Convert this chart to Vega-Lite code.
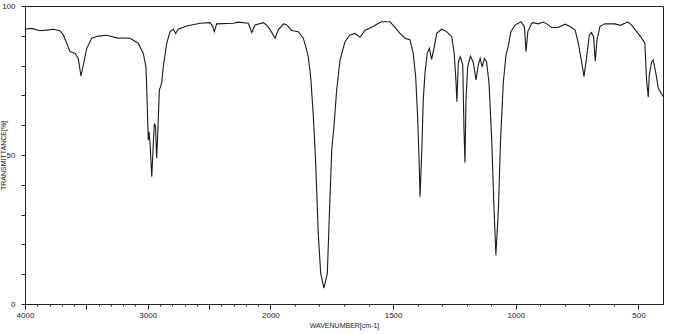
{
  "$schema": "https://vega.github.io/schema/vega-lite/v6.json",
  "autosize": {"type": "none"},
  "padding": {"left": 25, "top": 6, "right": 15, "bottom": 30},
  "width": 638,
  "height": 298,
  "background": "white",
  "config": {
    "view": {"stroke": "#222", "strokeWidth": 1},
    "axis": {"labelFont": "Liberation Sans", "titleFont": "Liberation Sans", "labelColor": "#222", "titleColor": "#222", "domainColor": "#222", "tickColor": "#222", "grid": false, "labelFontSize": 8, "titleFontSize": 7, "titleFontWeight": "normal", "labelFlush": false, "labelOverlap": false}
  },
  "data": {"values": [
    {"wavenumber": 4000, "transmittance": 92.2},
    {"wavenumber": 3945, "transmittance": 92.5},
    {"wavenumber": 3878, "transmittance": 91.7},
    {"wavenumber": 3823, "transmittance": 91.9},
    {"wavenumber": 3769, "transmittance": 92.2},
    {"wavenumber": 3715, "transmittance": 91.7},
    {"wavenumber": 3688, "transmittance": 90.3},
    {"wavenumber": 3660, "transmittance": 87.5},
    {"wavenumber": 3633, "transmittance": 84.7},
    {"wavenumber": 3592, "transmittance": 84.1},
    {"wavenumber": 3566, "transmittance": 82.4},
    {"wavenumber": 3544, "transmittance": 76.5},
    {"wavenumber": 3525, "transmittance": 80.2},
    {"wavenumber": 3497, "transmittance": 85.8},
    {"wavenumber": 3456, "transmittance": 89.2},
    {"wavenumber": 3403, "transmittance": 89.9},
    {"wavenumber": 3334, "transmittance": 90.2},
    {"wavenumber": 3253, "transmittance": 89.3},
    {"wavenumber": 3144, "transmittance": 89.2},
    {"wavenumber": 3077, "transmittance": 87.5},
    {"wavenumber": 3036, "transmittance": 84.1},
    {"wavenumber": 3014, "transmittance": 79.6},
    {"wavenumber": 3006, "transmittance": 70.0},
    {"wavenumber": 3000, "transmittance": 61.2},
    {"wavenumber": 2995, "transmittance": 55.0},
    {"wavenumber": 2989, "transmittance": 57.8},
    {"wavenumber": 2981, "transmittance": 54.0},
    {"wavenumber": 2967, "transmittance": 42.7},
    {"wavenumber": 2954, "transmittance": 53.9},
    {"wavenumber": 2946, "transmittance": 60.6},
    {"wavenumber": 2936, "transmittance": 59.5},
    {"wavenumber": 2927, "transmittance": 48.9},
    {"wavenumber": 2918, "transmittance": 57.3},
    {"wavenumber": 2905, "transmittance": 71.8},
    {"wavenumber": 2886, "transmittance": 74.1},
    {"wavenumber": 2873, "transmittance": 79.6},
    {"wavenumber": 2845, "transmittance": 87.5},
    {"wavenumber": 2818, "transmittance": 91.4},
    {"wavenumber": 2791, "transmittance": 92.2},
    {"wavenumber": 2772, "transmittance": 90.8},
    {"wavenumber": 2751, "transmittance": 92.2},
    {"wavenumber": 2682, "transmittance": 93.3},
    {"wavenumber": 2574, "transmittance": 94.2},
    {"wavenumber": 2492, "transmittance": 94.4},
    {"wavenumber": 2470, "transmittance": 93.1},
    {"wavenumber": 2457, "transmittance": 91.4},
    {"wavenumber": 2438, "transmittance": 94.0},
    {"wavenumber": 2302, "transmittance": 94.2},
    {"wavenumber": 2262, "transmittance": 94.6},
    {"wavenumber": 2180, "transmittance": 94.2},
    {"wavenumber": 2152, "transmittance": 91.1},
    {"wavenumber": 2125, "transmittance": 93.6},
    {"wavenumber": 2058, "transmittance": 94.4},
    {"wavenumber": 2030, "transmittance": 93.6},
    {"wavenumber": 2000, "transmittance": 91.9},
    {"wavenumber": 1981, "transmittance": 89.2},
    {"wavenumber": 1968, "transmittance": 92.0},
    {"wavenumber": 1947, "transmittance": 94.0},
    {"wavenumber": 1936, "transmittance": 93.8},
    {"wavenumber": 1913, "transmittance": 91.8},
    {"wavenumber": 1886, "transmittance": 91.4},
    {"wavenumber": 1866, "transmittance": 89.2},
    {"wavenumber": 1852, "transmittance": 85.2},
    {"wavenumber": 1846, "transmittance": 83.0},
    {"wavenumber": 1839, "transmittance": 78.5},
    {"wavenumber": 1835, "transmittance": 75.2},
    {"wavenumber": 1825, "transmittance": 63.0},
    {"wavenumber": 1818, "transmittance": 51.7},
    {"wavenumber": 1815, "transmittance": 46.1},
    {"wavenumber": 1805, "transmittance": 23.7},
    {"wavenumber": 1795, "transmittance": 10.3},
    {"wavenumber": 1782, "transmittance": 5.3},
    {"wavenumber": 1768, "transmittance": 10.3},
    {"wavenumber": 1760, "transmittance": 29.3},
    {"wavenumber": 1750, "transmittance": 51.7},
    {"wavenumber": 1741, "transmittance": 59.5},
    {"wavenumber": 1730, "transmittance": 71.8},
    {"wavenumber": 1716, "transmittance": 81.9},
    {"wavenumber": 1696, "transmittance": 88.0},
    {"wavenumber": 1676, "transmittance": 90.3},
    {"wavenumber": 1655, "transmittance": 90.8},
    {"wavenumber": 1635, "transmittance": 89.5},
    {"wavenumber": 1614, "transmittance": 91.9},
    {"wavenumber": 1581, "transmittance": 93.1},
    {"wavenumber": 1560, "transmittance": 94.2},
    {"wavenumber": 1546, "transmittance": 94.7},
    {"wavenumber": 1513, "transmittance": 94.7},
    {"wavenumber": 1492, "transmittance": 92.8},
    {"wavenumber": 1472, "transmittance": 90.8},
    {"wavenumber": 1451, "transmittance": 89.2},
    {"wavenumber": 1431, "transmittance": 88.6},
    {"wavenumber": 1418, "transmittance": 84.1},
    {"wavenumber": 1408, "transmittance": 76.3},
    {"wavenumber": 1400, "transmittance": 62.9},
    {"wavenumber": 1394, "transmittance": 48.3},
    {"wavenumber": 1390, "transmittance": 36.0},
    {"wavenumber": 1383, "transmittance": 51.7},
    {"wavenumber": 1377, "transmittance": 68.5},
    {"wavenumber": 1370, "transmittance": 77.4},
    {"wavenumber": 1361, "transmittance": 84.1},
    {"wavenumber": 1352, "transmittance": 85.8},
    {"wavenumber": 1343, "transmittance": 82.1},
    {"wavenumber": 1332, "transmittance": 86.4},
    {"wavenumber": 1322, "transmittance": 90.8},
    {"wavenumber": 1302, "transmittance": 92.2},
    {"wavenumber": 1282, "transmittance": 91.4},
    {"wavenumber": 1261, "transmittance": 89.7},
    {"wavenumber": 1251, "transmittance": 84.1},
    {"wavenumber": 1244, "transmittance": 75.2},
    {"wavenumber": 1240, "transmittance": 67.9},
    {"wavenumber": 1234, "transmittance": 81.3},
    {"wavenumber": 1226, "transmittance": 83.0},
    {"wavenumber": 1216, "transmittance": 80.2},
    {"wavenumber": 1211, "transmittance": 58.4},
    {"wavenumber": 1207, "transmittance": 47.4},
    {"wavenumber": 1203, "transmittance": 68.5},
    {"wavenumber": 1196, "transmittance": 79.6},
    {"wavenumber": 1185, "transmittance": 83.2},
    {"wavenumber": 1174, "transmittance": 81.3},
    {"wavenumber": 1162, "transmittance": 75.2},
    {"wavenumber": 1153, "transmittance": 80.2},
    {"wavenumber": 1145, "transmittance": 82.4},
    {"wavenumber": 1137, "transmittance": 79.6},
    {"wavenumber": 1128, "transmittance": 82.4},
    {"wavenumber": 1119, "transmittance": 81.3},
    {"wavenumber": 1109, "transmittance": 74.1},
    {"wavenumber": 1098, "transmittance": 55.0},
    {"wavenumber": 1089, "transmittance": 32.7},
    {"wavenumber": 1081, "transmittance": 16.4},
    {"wavenumber": 1071, "transmittance": 31.5},
    {"wavenumber": 1062, "transmittance": 55.0},
    {"wavenumber": 1051, "transmittance": 74.1},
    {"wavenumber": 1040, "transmittance": 83.6},
    {"wavenumber": 1031, "transmittance": 86.4},
    {"wavenumber": 1020, "transmittance": 91.4},
    {"wavenumber": 1003, "transmittance": 93.6},
    {"wavenumber": 979, "transmittance": 94.7},
    {"wavenumber": 965, "transmittance": 93.1},
    {"wavenumber": 958, "transmittance": 84.7},
    {"wavenumber": 951, "transmittance": 91.4},
    {"wavenumber": 935, "transmittance": 94.2},
    {"wavenumber": 929, "transmittance": 94.4},
    {"wavenumber": 908, "transmittance": 94.0},
    {"wavenumber": 888, "transmittance": 94.6},
    {"wavenumber": 874, "transmittance": 94.0},
    {"wavenumber": 854, "transmittance": 92.8},
    {"wavenumber": 827, "transmittance": 92.8},
    {"wavenumber": 799, "transmittance": 93.9},
    {"wavenumber": 779, "transmittance": 93.1},
    {"wavenumber": 758, "transmittance": 91.9},
    {"wavenumber": 745, "transmittance": 87.5},
    {"wavenumber": 731, "transmittance": 80.8},
    {"wavenumber": 722, "transmittance": 76.3},
    {"wavenumber": 711, "transmittance": 83.0},
    {"wavenumber": 700, "transmittance": 90.3},
    {"wavenumber": 691, "transmittance": 91.1},
    {"wavenumber": 683, "transmittance": 89.7},
    {"wavenumber": 676, "transmittance": 81.5},
    {"wavenumber": 669, "transmittance": 88.6},
    {"wavenumber": 657, "transmittance": 93.1},
    {"wavenumber": 637, "transmittance": 94.0},
    {"wavenumber": 596, "transmittance": 94.0},
    {"wavenumber": 575, "transmittance": 93.5},
    {"wavenumber": 555, "transmittance": 94.2},
    {"wavenumber": 544, "transmittance": 94.7},
    {"wavenumber": 528, "transmittance": 93.6},
    {"wavenumber": 507, "transmittance": 91.4},
    {"wavenumber": 487, "transmittance": 89.2},
    {"wavenumber": 474, "transmittance": 87.5},
    {"wavenumber": 467, "transmittance": 75.2},
    {"wavenumber": 460, "transmittance": 69.4},
    {"wavenumber": 456, "transmittance": 76.8},
    {"wavenumber": 446, "transmittance": 81.3},
    {"wavenumber": 440, "transmittance": 81.9},
    {"wavenumber": 430, "transmittance": 77.9},
    {"wavenumber": 419, "transmittance": 72.4},
    {"wavenumber": 400, "transmittance": 69.6}
  ]},
  "layer": [
    {
      "mark": {"type": "line", "color": "#1a1a1a", "strokeWidth": 1.1, "interpolate": "linear"},
      "encoding": {
        "x": {"field": "wavenumber", "type": "quantitative",
          "scale": {"domain": [4000, 2000, 400], "range": [0, 245.4, 638], "nice": false, "zero": false},
          "axis": {"orient": "bottom", "values": [4000, 3500, 3000, 2500, 2000, 1500, 1000, 500],
            "labelExpr": "datum.value == 3500 || datum.value == 2500 ? '' : datum.label",
            "format": "d", "tickSize": 5, "labelPadding": 2,
            "title": "WAVENUMBER[cm-1]", "titlePadding": 2}},
        "y": {"field": "transmittance", "type": "quantitative",
          "scale": {"domain": [0, 100], "nice": false, "zero": false},
          "axis": {"values": [0, 10, 20, 30, 40, 50, 60, 70, 80, 90, 100],
            "labelExpr": "datum.value == 0 || datum.value == 50 || datum.value == 100 ? datum.label : ''",
            "tickSize": 4, "labelPadding": 6,
            "title": "TRANSMITTANCE[%]", "titleX": -22, "titleY": 149, "titleAngle": -90, "titleAlign": "center", "titleBaseline": "middle"}}
      }
    },
    {
      "mark": {"type": "line", "strokeOpacity": 0},
      "encoding": {
        "x": {"field": "wavenumber", "type": "quantitative",
          "axis": {"orient": "bottom", "values": [3900, 3800, 3700, 3600, 3400, 3300, 3200, 3100, 2900, 2800, 2700, 2600, 2400, 2300, 2200, 2100, 1900, 1800, 1700, 1600, 1400, 1300, 1200, 1100, 900, 800, 700, 600],
            "labels": false, "domain": false, "tickSize": 2, "title": null}},
        "y": {"field": "transmittance", "type": "quantitative", "axis": null}
      }
    }
  ],
  "resolve": {"axis": {"x": "independent", "y": "independent"}}
}
